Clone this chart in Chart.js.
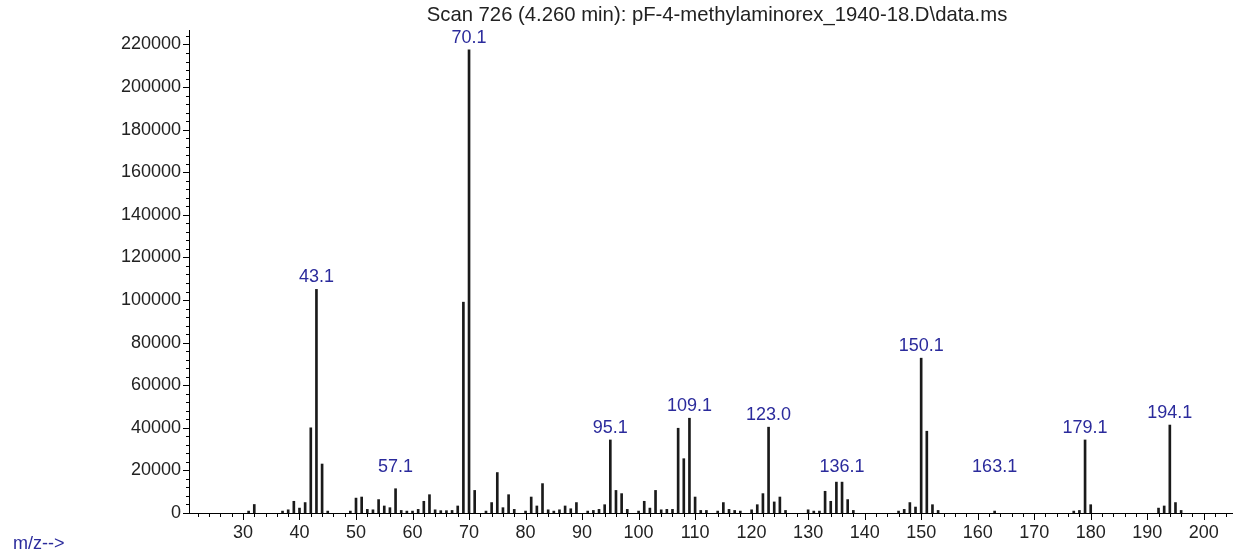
<!DOCTYPE html>
<html>
<head>
<meta charset="utf-8">
<script src="https://cdn.jsdelivr.net/npm/chart.js@4"></script>
<style>
  html, body { margin: 0; padding: 0; background: #fff; }
  #wrap { width: 1236px; height: 556px; position: relative; }
</style>
</head>
<body>
<div id="wrap"><canvas id="ms"></canvas></div>
<script>
// spectrum values
const mzValues = [31, 32, 37, 38, 39, 40, 41, 42, 43, 44, 45, 49, 50, 51, 52, 53, 54, 55, 56, 57, 58, 59, 60,
  61, 62, 63, 64, 65, 66, 67, 68, 69, 70, 71, 73, 74, 75, 76, 77, 78, 80, 81, 82, 83, 84, 85, 86, 87, 88, 89,
  91, 92, 93, 94, 95, 96, 97, 98, 100, 101, 102, 103, 104, 105, 106, 107, 108, 109, 110, 111, 112, 114, 115,
  116, 117, 118, 120, 121, 122, 123, 124, 125, 126, 130, 131, 132, 133, 134, 135, 136, 137, 138, 146, 147,
  148, 149, 150, 151, 152, 153, 163, 177, 178, 179, 180, 192, 193, 194, 195, 196];
const abundance = [900, 4000, 900, 1500, 5500, 2300, 4900, 40000, 105000, 23000, 900, 900, 7000, 7500, 1700,
  1500, 6300, 3300, 2500, 11400, 1200, 900, 900, 1700, 5500, 8600, 1500, 1100, 1100, 1200, 3300, 99000, 217500,
  10600, 900, 4900, 19000, 2500, 8600, 1700, 900, 7500, 3300, 13800, 1500, 900, 1500, 3300, 2000, 4900, 900,
  1200, 1700, 3900, 34300, 10600, 9100, 1700, 900, 5500, 2300, 10600, 1500, 1700, 1700, 39800, 25500, 44500,
  7500, 1200, 1200, 900, 4900, 1700, 1200, 900, 1500, 3900, 9100, 40300, 5200, 7500, 1200, 1500, 900, 900,
  10200, 5500, 14500, 14500, 6300, 1200, 900, 1700, 4900, 2800, 72700, 38400, 3900, 1200, 900, 900, 1200,
  34300, 3900, 2300, 3300, 41300, 4900, 1200];

// annotated peaks
const labelMz = [43, 57, 70, 95, 109, 123, 136, 150, 163, 179, 194];
const labelText = ['43.1', '57.1', '70.1', '95.1', '109.1', '123.0', '136.1', '150.1', '163.1', '179.1', '194.1'];

// axis tick labels
const xTicks = [30, 40, 50, 60, 70, 80, 90, 100, 110, 120, 130, 140, 150, 160, 170, 180, 190, 200];
const yTicks = [0, 20000, 40000, 60000, 80000, 100000, 120000, 140000, 160000, 180000, 200000, 220000];

const titleText = 'Scan 726 (4.260 min): pF-4-methylaminorex_1940-18.D\\data.ms';
const xLabelText = 'm/z-->';

const FONT = 'Liberation Sans, Arial, sans-serif';
const BLUE = '#2b2b9c';

// tick marks, peak labels, title
const decor = {
  id: 'decor',
  beforeDatasetsDraw(chart) {
    const ctx = chart.ctx;
    ctx.save();
    ctx.fillStyle = '#222';
    ctx.font = '20.3px ' + FONT;
    ctx.textAlign = 'center';
    ctx.textBaseline = 'middle';
    ctx.fillText(titleText, 717, 15);
    ctx.restore();
  },
  afterDraw(chart) {
    const ctx = chart.ctx;
    const xs = chart.scales.x, ys = chart.scales.y;
    const base = ys.getPixelForValue(0);
    const left = xs.left;
    ctx.save();
    ctx.strokeStyle = '#000';
    ctx.lineWidth = 1;
    ctx.beginPath();
    for (let v = 22; v <= 204; v += 2) {
      const px = Math.round(xs.getPixelForValue(v)) + 0.5;
      const len = v % 10 === 0 ? 7 : 4;
      ctx.moveTo(px, base);
      ctx.lineTo(px, base + len);
    }
    for (let v = 0; v <= 224000; v += 4000) {
      const py = Math.round(ys.getPixelForValue(v)) + 0.5;
      const len = v % 20000 === 0 ? 6 : 3;
      ctx.moveTo(left, py);
      ctx.lineTo(left - len, py);
    }
    ctx.stroke();

    // peak labels
    ctx.font = '18px ' + FONT;
    ctx.textAlign = 'center';
    ctx.textBaseline = 'bottom';
    labelMz.forEach((m, i) => {
      const idx = mzValues.indexOf(m);
      const px = xs.getPixelForValue(m);
      const top = Math.min(ys.getPixelForValue(abundance[idx]), base - 34);
      const w = ctx.measureText(labelText[i]).width;
      ctx.fillStyle = '#fff';
      ctx.fillRect(px - w / 2 - 1, top - 23, w + 2, 19);
      ctx.fillStyle = BLUE;
      ctx.fillText(labelText[i], px, top - 3);
    });

    ctx.fillStyle = BLUE;
    ctx.textAlign = 'left';
    ctx.textBaseline = 'middle';
    ctx.font = '18px ' + FONT;
    ctx.fillText(xLabelText, 13, 544);
    ctx.restore();
  }
};

new Chart(document.getElementById('ms'), {
  type: 'bar',
  data: {
    datasets: [{
      data: mzValues.map((m, i) => ({ x: m, y: abundance[i] })),
      backgroundColor: '#1a1a1a',
      barThickness: 2,
      borderWidth: 0
    }]
  },
  options: {
    responsive: true,
    maintainAspectRatio: false,
    animation: false,
    layout: { padding: { top: 30, right: 4, left: 0, bottom: 0 } },
    plugins: { legend: { display: false }, tooltip: { enabled: false } },
    scales: {
      x: {
        type: 'linear',
        offset: false,
        min: 20.45,
        max: 205,
        grid: { display: false, drawTicks: false, offset: false },
        border: { display: true, color: '#000', width: 1 },
        afterBuildTicks: s => { s.ticks = xTicks.map(v => ({ value: v })); },
        ticks: {
          autoSkip: false,
          maxRotation: 0,
          padding: 9,
          color: '#222',
          font: { family: FONT, size: 18 },
          callback: v => String(v)
        },
        afterFit: s => { s.height = 43; }
      },
      y: {
        min: 0,
        max: 226800,
        grid: { display: false, drawTicks: false },
        border: { display: true, color: '#000', width: 1 },
        afterBuildTicks: s => { s.ticks = yTicks.map(v => ({ value: v })); },
        ticks: {
          autoSkip: false,
          padding: 8,
          color: '#222',
          font: { family: FONT, size: 18 },
          callback: v => String(v)
        },
        afterFit: s => { s.width = 189; }
      }
    }
  },
  plugins: [decor]
});
</script>
</body>
</html>
